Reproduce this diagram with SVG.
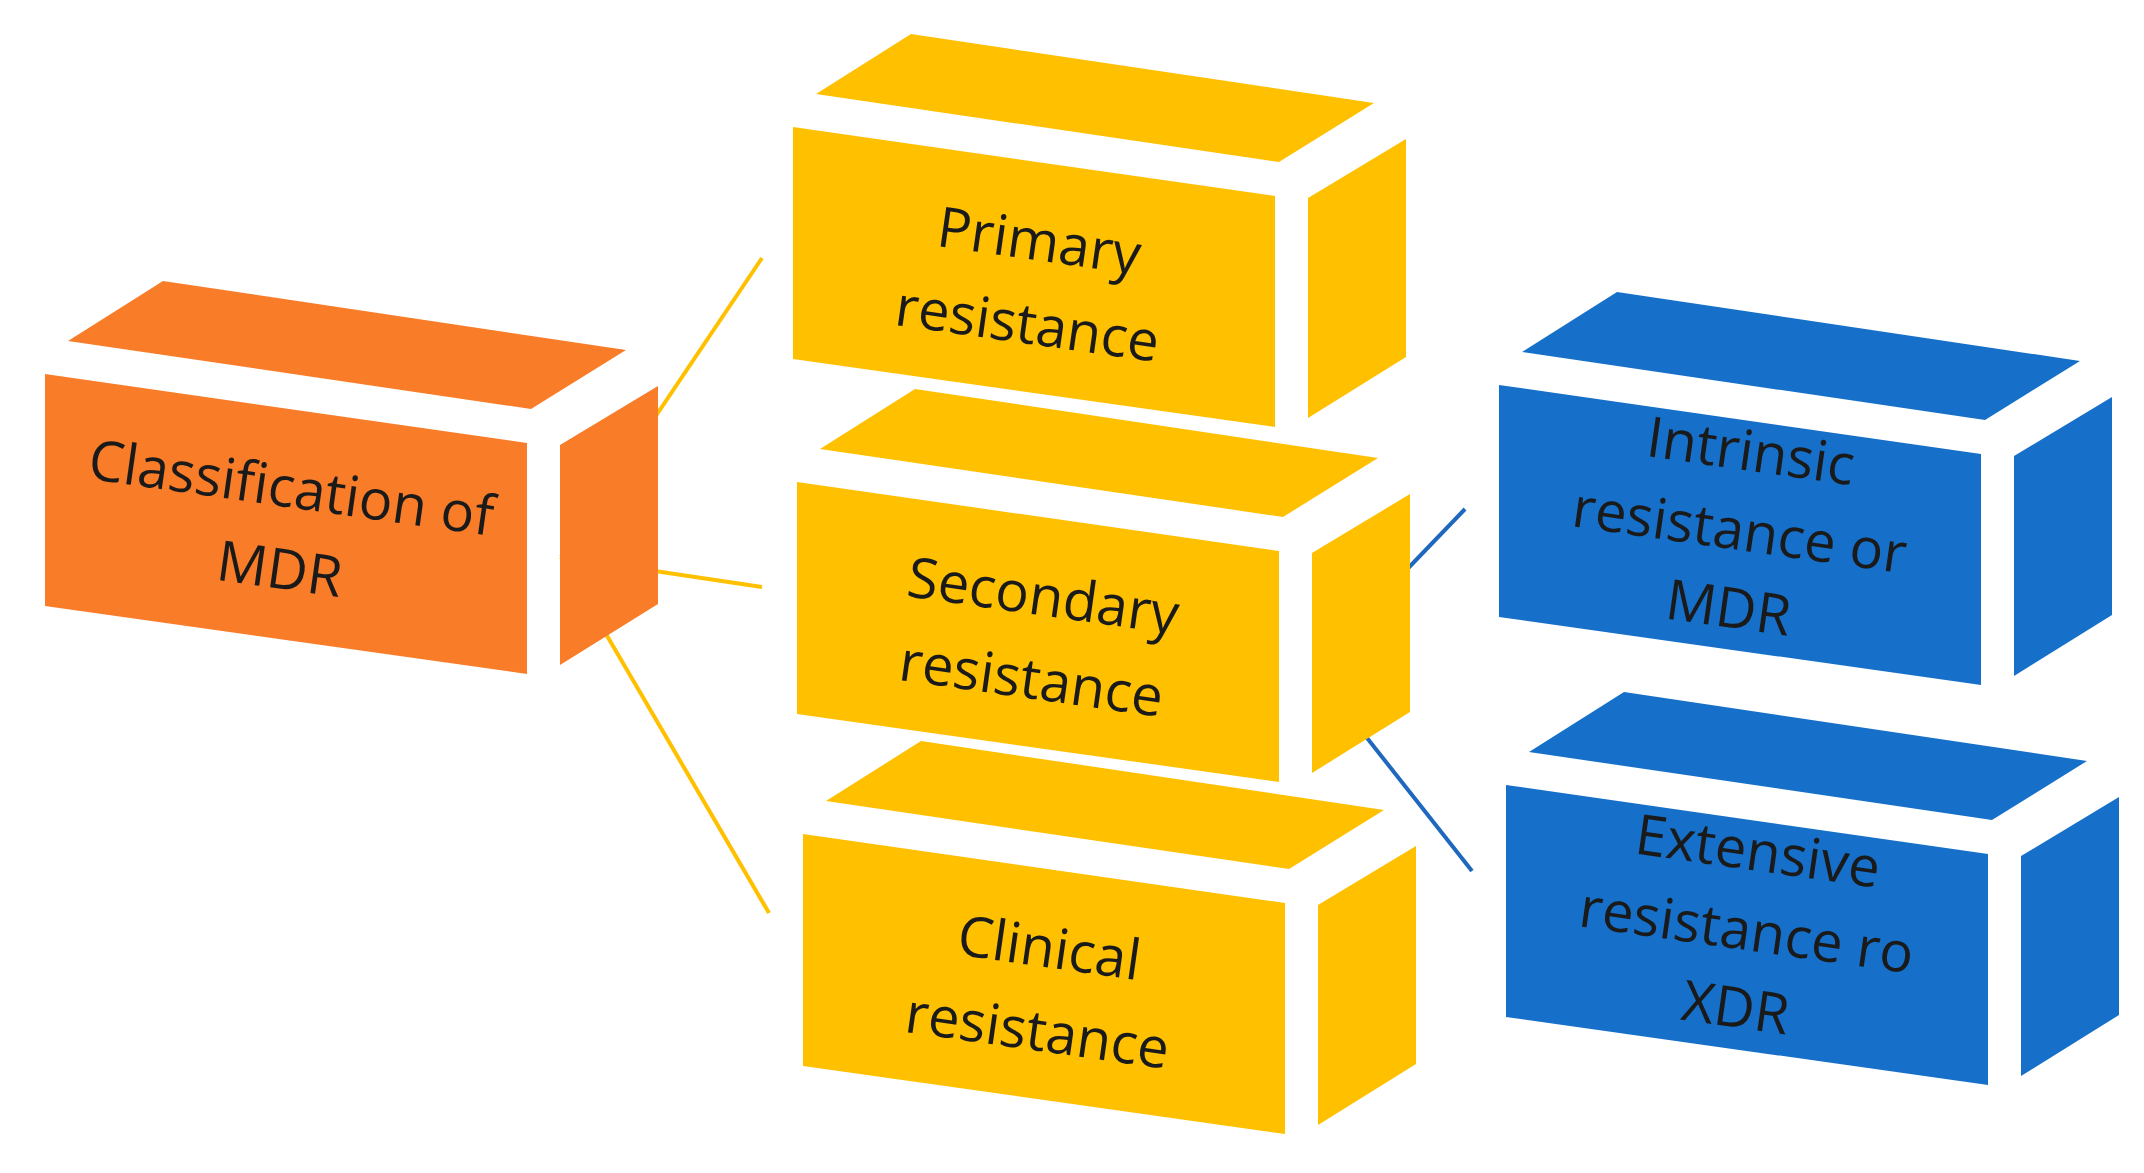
<svg xmlns="http://www.w3.org/2000/svg" width="2144" height="1173" viewBox="0 0 2144 1173">
<style>
.o{fill:#F97C28}.o .fr{stroke:#F97C28}
.y{fill:#FFC000}.y .fr{stroke:#FFC000}
.b{fill:#1670C9}.b .fr{stroke:#1670C9}
.fr{stroke-width:14;stroke-linejoin:round}
.t{font-family:"Open Sans","Liberation Sans",sans-serif;font-size:56px;fill:#1a1a1a;text-anchor:middle;dominant-baseline:central}
.cy{stroke:#FFC000;stroke-width:4;fill:none}
.cb{stroke:#1F68BD;stroke-width:4;fill:none}
</style>
<defs>
<g id="box">
<polygon class="fr" points="7,7 489,76 489,307 7,239"/>
<polygon points="30,-26 125,-86 588,-17 493,42"/>
<polygon points="522,78 620,19 620,237 522,298"/>
</g>
</defs>
<rect width="2144" height="1173" fill="#fff"/>
<g id="connectors">
<line class="cy" x1="561" y1="557" x2="762" y2="258"/>
<line class="cy" x1="561" y1="557" x2="762" y2="587"/>
<line class="cy" x1="561" y1="557" x2="769" y2="913"/>
<line class="cb" x1="1315" y1="665" x2="1465" y2="509"/>
<line class="cb" x1="1315" y1="672" x2="1472" y2="871"/>
</g>
<g id="n-mdr" class="o" transform="translate(38,367)">
<use href="#box"/>
<g transform="translate(248,158) rotate(8.1)"><text class="t" y="-40">Classification of</text><text class="t" y="42">MDR</text></g>
</g>
<g id="n-primary" class="y" transform="translate(786,120)">
<use href="#box"/>
<g transform="translate(248,158) rotate(8.1)"><text class="t" y="-40">Primary</text><text class="t" y="44">resistance</text></g>
</g>
<g id="n-secondary" class="y" transform="translate(790,475)">
<use href="#box"/>
<g transform="translate(248,158) rotate(8.1)"><text class="t" y="-40">Secondary</text><text class="t" y="44">resistance</text></g>
</g>
<g id="n-clinical" class="y" transform="translate(796,827)">
<use href="#box"/>
<g transform="translate(248,158) rotate(8.1)"><text class="t" y="-40">Clinical</text><text class="t" y="44">resistance</text></g>
</g>
<g id="n-intrinsic" class="b" transform="translate(1492,378)">
<use href="#box"/>
<g transform="translate(248,150) rotate(8.1)"><text class="t" y="-80">Intrinsic</text><text class="t" y="0">resistance or</text><text class="t" y="78">MDR</text></g>
</g>
<g id="n-extensive" class="b" transform="translate(1499,778)">
<use href="#box"/>
<g transform="translate(248,150) rotate(8.1)"><text class="t" y="-80">Extensive</text><text class="t" y="0">resistance ro</text><text class="t" y="78">XDR</text></g>
</g>
</svg>
